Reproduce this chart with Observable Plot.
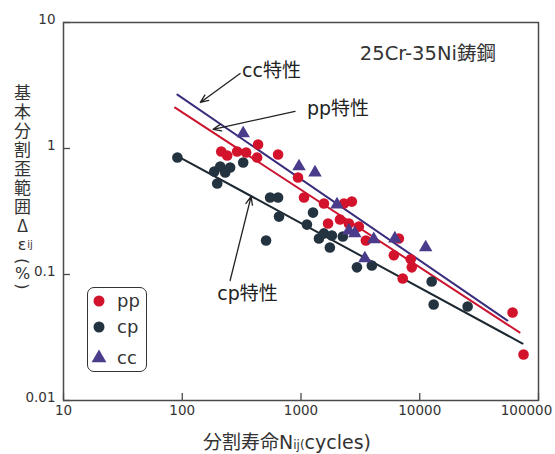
<!DOCTYPE html>
<html>
<head>
<meta charset="utf-8">
<script src="https://cdn.jsdelivr.net/npm/d3@7"></script>
<script src="https://cdn.jsdelivr.net/npm/@observablehq/plot@0.6"></script>
<style>
  body { margin: 0; background: #fff; }
  #wrap { position: relative; width: 555px; height: 454px; font-family: "DejaVu Sans", "Noto Sans CJK JP", sans-serif; color: #333; }
  .yt { position: absolute; left: 12px; width: 20px; text-align: center; color: #333; }
  #yt1 { top: 84px; font-family: "Noto Sans CJK JP", sans-serif; font-size: 17px; line-height: 20px; writing-mode: vertical-rl; text-orientation: upright; letter-spacing: 2px; }
  #yt2 { top: 236px; font-family: "DejaVu Sans", sans-serif; font-size: 16px; line-height: 18px; }
  #yt3 { top: 258px; display: flex; justify-content: center; }
  #xtitle { position: absolute; left: 203px; top: 430px; font-size: 19px; line-height: 22px; color: #333; white-space: nowrap; }
  #xtitle .sm { font-size: 12px; }
  #legend { position: absolute; left: 87px; top: 287px; width: 58px; height: 83px; border: 1.5px solid #333; border-radius: 7px; }
</style>
</head>
<body>
<div id="wrap"></div>
<script>
// ---- data ----
const xTicks = [10, 100, 1000, 10000, 100000];
const yTicks = [0.01, 0.1, 1, 10];

const ppN = [213, 239, 290, 345, 427, 435, 641, 944, 1060, 1560, 2300, 2680, 1690, 2130, 2530, 3070, 3520, 6670, 6050, 8400, 8570, 7190, 60500, 74800];
const ppS = [0.947, 0.880, 0.947, 0.930, 0.848, 1.076, 0.896, 0.589, 0.408, 0.366, 0.366, 0.379, 0.254, 0.273, 0.254, 0.240, 0.186, 0.193, 0.142, 0.132, 0.114, 0.093, 0.0499, 0.0232];

const cpN = [91, 186, 209, 230, 253, 326, 197, 549, 641, 653, 508, 1122, 1262, 1416, 1560, 1820, 1750, 2250, 2960, 3950, 12600, 13100, 25300];
const cpS = [0.848, 0.656, 0.720, 0.645, 0.706, 0.774, 0.527, 0.408, 0.408, 0.288, 0.186, 0.249, 0.310, 0.193, 0.212, 0.204, 0.164, 0.200, 0.114, 0.118, 0.088, 0.0578, 0.0557];

const ccN = [326, 962, 1312, 2010, 2530, 2840, 4100, 6170, 11220, 3450];
const ccS = [1.316, 0.720, 0.645, 0.359, 0.223, 0.212, 0.190, 0.193, 0.164, 0.134];

// fitted characteristic lines (end points)
const ccLineN = [91, 54800];   const ccLineS = [2.68, 0.0431];
const ppLineN = [87, 69200];   const ppLineS = [2.11, 0.0347];
const cpLineN = [96, 73400];   const cpLineS = [0.848, 0.0283];

// annotations
const noteText = ["cc特性", "pp特性", "cp特性"];
const noteN = [319, 1122, 197];
const noteS = [4.16, 2.07, 0.0706];
const arrowFromN = [307, 891, 253];
const arrowFromS = [3.94, 1.97, 0.0896];
const arrowToN = [142, 182, 380];
const arrowToS = [2.32, 1.42, 0.416];

const titleText = ["25Cr-35Ni鋳鋼"];
const titleN = [3130];
const titleS = [5.68];

const seriesNames = ["pp", "cp", "cc"];
const colors = { pp: "#d3122c", cp: "#243340", cc: "#4a3b8b" };
const lineColors = { pp: "#cc1530", cp: "#1d2831", cc: "#392d7c" };

// ---- build tables ----
const zip = (a, b) => a.map((v, i) => ({ n: v, s: b[i] }));
const pp = zip(ppN, ppS), cp = zip(cpN, cpS), cc = zip(ccN, ccS);
const lines = [
  ...zip(ccLineN, ccLineS).map(d => ({ ...d, k: "cc" })),
  ...zip(ppLineN, ppLineS).map(d => ({ ...d, k: "pp" })),
  ...zip(cpLineN, cpLineS).map(d => ({ ...d, k: "cp" }))
];
const notes = noteText.map((t, i) => ({ t, n: noteN[i], s: noteS[i] }));
const arrows = noteText.map((t, i) => ({ x1: arrowFromN[i], y1: arrowFromS[i], x2: arrowToN[i], y2: arrowToS[i] }));
const titles = titleText.map((t, i) => ({ t, n: titleN[i], s: titleS[i] }));

const fmt = d => String(d);

const chart = Plot.plot({
  width: 555,
  height: 454,
  marginLeft: 63,
  marginRight: 17,
  marginTop: 22,
  marginBottom: 54,
  style: { fontFamily: '"DejaVu Sans", "Noto Sans CJK JP", sans-serif', fontSize: "13.5px", color: "#333", background: "transparent" },
  x: { type: "log", domain: [10, 100000] },
  y: { type: "log", domain: [0.01, 10] },
  marks: [
    Plot.frame({ stroke: "#4a4a4a", strokeWidth: 1.5 }),
    Plot.axisX(xTicks, { tickSize: -7, fill: "none", stroke: "#4a4a4a", strokeWidth: 1.3, label: null }),
    Plot.axisY(yTicks, { tickSize: -7, fill: "none", stroke: "#4a4a4a", strokeWidth: 1.3, label: null }),
    Plot.axisX(xTicks.slice(0, 4), { tickSize: 0, tickPadding: 5, tickFormat: fmt, label: null }),
    Plot.axisX(xTicks.slice(4), { tickSize: 0, tickPadding: 5, tickFormat: fmt, label: null, dx: -12 }),
    Plot.axisY(yTicks, { tickSize: 0, tickPadding: 8, tickFormat: fmt, label: null, dy: -3 }),
    Plot.line(lines, { x: "n", y: "s", z: "k", stroke: d => lineColors[d.k], strokeWidth: 2 }),
    Plot.dot(cp, { x: "n", y: "s", r: 5.3, fill: colors.cp }),
    Plot.dot(pp, { x: "n", y: "s", r: 5.3, fill: colors.pp }),
    Plot.dot(cc, { x: "n", y: "s", r: 5, symbol: "triangle", fill: colors.cc }),
    Plot.arrow(arrows, { x1: "x1", y1: "y1", x2: "x2", y2: "y2", stroke: "#222", strokeWidth: 1.3, headLength: 10, headAngle: 45 }),
    Plot.text(notes, { x: "n", y: "s", text: "t", textAnchor: "start", fontSize: 19, fill: "#222" }),
    Plot.text(titles, { x: "n", y: "s", text: "t", textAnchor: "start", fontSize: 19.5, fill: "#333" })
  ]
});

const wrap = document.getElementById("wrap");
wrap.appendChild(chart);

// y-axis title (vertical, upright characters)
const yt1 = document.createElement("div");
yt1.className = "yt"; yt1.id = "yt1";
yt1.textContent = "基本分割歪範囲Δ";
wrap.appendChild(yt1);

const yt2 = document.createElement("div");
yt2.className = "yt"; yt2.id = "yt2";
yt2.innerHTML = `ε<span style="font-size:10px;position:absolute;margin-left:1px;">ij</span>`;
wrap.appendChild(yt2);

const yt3 = document.createElement("div");
yt3.className = "yt"; yt3.id = "yt3";
yt3.innerHTML = `<span style="writing-mode:vertical-rl;text-orientation:mixed;font-family:'DejaVu Sans',sans-serif;font-size:16px;line-height:18px;">(<span style="text-orientation:upright;">%</span>)</span>`;
wrap.appendChild(yt3);

// x-axis title
const xt = document.createElement("div");
xt.id = "xtitle";
xt.innerHTML = `<span style="font-family:'Noto Sans CJK JP',sans-serif">分割寿命</span>N<span class="sm">ij(</span>cycles)`;
wrap.appendChild(xt);

// legend
const lg = document.createElement("div");
lg.id = "legend";
wrap.appendChild(lg);
const svg = d3.select(lg).append("svg").attr("width", 58).attr("height", 83);
const rowsY = [13, 39, 70];
seriesNames.forEach((k, i) => {
  const g = svg.append("g").attr("transform", `translate(11,${rowsY[i]})`);
  if (k === "cc") {
    g.append("path").attr("d", d3.symbol(d3.symbolTriangle, 95)()).attr("fill", colors[k]);
  } else {
    g.append("circle").attr("r", 5.5).attr("fill", colors[k]);
  }
  svg.append("text").attr("x", 29).attr("y", rowsY[i]).attr("dy", "0.35em")
    .attr("font-size", 18).attr("fill", "#333")
    .attr("font-family", '"DejaVu Sans", sans-serif').text(k);
});
</script>
</body>
</html>
